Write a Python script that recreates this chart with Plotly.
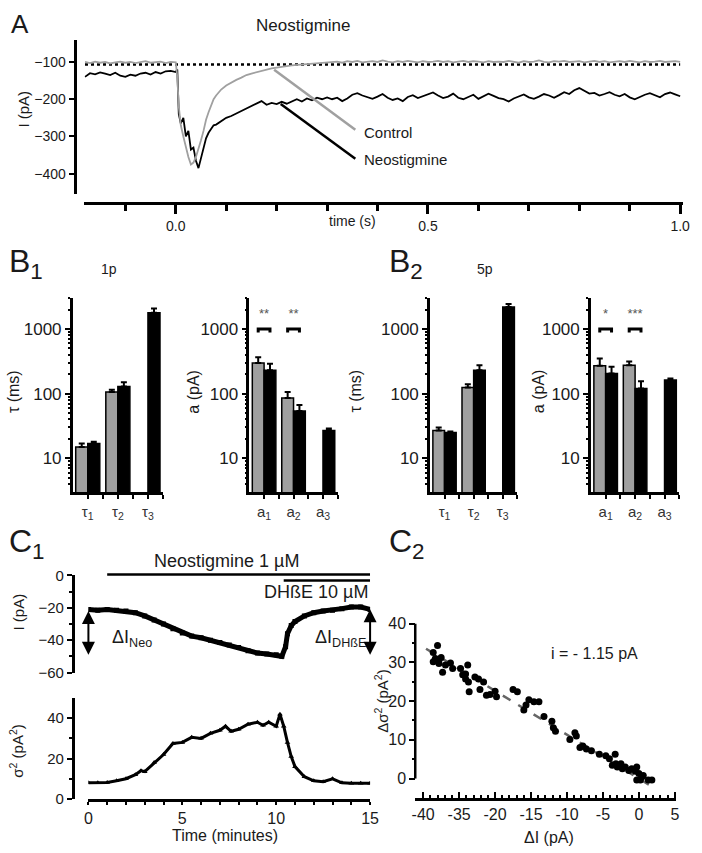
import plotly.graph_objects as go

W, H = 702, 853
FONT = "Liberation Sans, Arial, sans-serif"
INK = "#1a1a1a"
GREY = "#a0a0a0"


def px(x):
    return x / W


def py(y):
    return 1 - y / H


# ---------------- panel A data (time in s, current in pA)
t_a = [-0.18, -0.17, -0.16, -0.15, -0.14, -0.13, -0.12, -0.11, -0.10, -0.09,
       -0.08, -0.07, -0.06, -0.05, -0.04, -0.03, -0.02, -0.01, 0.0,
       0.003, 0.006, 0.01, 0.015, 0.02, 0.025, 0.03, 0.035, 0.04, 0.045,
       0.05, 0.055, 0.06, 0.065, 0.07, 0.075,
       0.08, 0.09, 0.10, 0.11, 0.12, 0.13, 0.14, 0.15, 0.16, 0.17, 0.18,
       0.19, 0.20, 0.21, 0.22, 0.23, 0.24, 0.25, 0.26, 0.27, 0.28, 0.29, 0.30,
       0.31, 0.32, 0.33, 0.34, 0.35, 0.36, 0.37, 0.38, 0.39, 0.40,
       0.41, 0.42, 0.43, 0.44, 0.45, 0.46, 0.47, 0.48, 0.49, 0.50,
       0.51, 0.52, 0.53, 0.54, 0.55, 0.56, 0.57, 0.58, 0.59, 0.60,
       0.61, 0.62, 0.63, 0.64, 0.65, 0.66, 0.67, 0.68, 0.69, 0.70,
       0.71, 0.72, 0.73, 0.74, 0.75, 0.76, 0.77, 0.78, 0.79, 0.80,
       0.81, 0.82, 0.83, 0.84, 0.85, 0.86, 0.87, 0.88, 0.89, 0.90,
       0.91, 0.92, 0.93, 0.94, 0.95, 0.96, 0.97, 0.98, 0.99, 1.00]
control_a = [-100, -103, -99, -102, -100, -104, -101, -99, -102, -100,
             -103, -100, -98, -102, -101, -99, -103, -100, -101,
             -140, -220, -270, -300, -330, -355, -375, -370, -355, -335,
             -310, -285, -255, -235, -215, -200,
             -190, -174, -163, -155, -148, -142, -135, -131, -127, -123, -120,
             -117, -115, -112, -111, -109, -108, -107, -106, -105, -104, -103, -103,
             -101, -99, -102, -98, -100, -97, -101, -99, -98, -100,
             -96, -99, -101, -98, -100, -97, -99, -101, -98, -100,
             -99, -97, -100, -98, -101, -99, -97, -100, -98, -99,
             -101, -98, -100, -99, -100, -97, -99, -102, -98, -100,
             -99, -96, -100, -101, -98, -99, -97, -100, -99, -98,
             -101, -99, -97, -100, -98, -101, -99, -98, -100, -97,
             -99, -101, -98, -100, -99, -97, -100, -99, -98, -100]
neo_a = [-140, -130, -133, -128, -131, -135, -129, -137, -140, -134,
         -137, -131, -129, -134, -127, -131, -125, -124, -127,
         -120, -240, -265, -250, -300, -285, -335, -330, -365, -385,
         -360, -330, -305, -290, -280, -270,
         -268, -260, -250, -245, -238, -232, -226, -218, -212, -205, -215,
         -210, -213, -207, -212, -205, -200, -206, -198, -203, -196, -200, -195,
         -200, -196, -205, -198, -188, -184, -190, -195, -199, -193,
         -186, -196, -202, -198, -205, -194, -189, -197, -192, -186,
         -182, -190, -197, -193, -185, -196, -200, -194, -188, -199,
         -192, -185, -191, -197, -200, -206, -198, -192, -187, -195,
         -199, -193, -186, -190, -196, -189, -181, -186, -176, -170,
         -178, -185, -183, -190, -186, -181, -188, -192, -186, -195,
         -200, -193, -188, -184, -190, -195, -186, -182, -187, -192]
baseline_t = [-0.18, 1.0]
baseline_i = [-107, -107]

# ---------------- panel B data (gray = control, black = neostigmine)
tau_1p_ctrl = [15, 106, None]
tau_1p_ctrl_err = [2, 9, 0]
tau_1p_neo = [17, 129, 1790]
tau_1p_neo_err = [1, 21, 290]
amp_1p_ctrl = [298, 86, None]
amp_1p_ctrl_err = [69, 20, 0]
amp_1p_neo = [231, 54, 27]
amp_1p_neo_err = [60, 13, 2]

tau_5p_ctrl = [27, 125, None]
tau_5p_ctrl_err = [3, 15, 0]
tau_5p_neo = [25, 231, 2180]
tau_5p_neo_err = [1, 44, 260]
amp_5p_ctrl = [270, 275, None]
amp_5p_ctrl_err = [80, 40, 0]
amp_5p_neo = [205, 120, 163]
amp_5p_neo_err = [55, 35, 9]

tau_labels = ["τ<sub>1</sub>", "τ<sub>2</sub>", "τ<sub>3</sub>"]
amp_labels = ["a<sub>1</sub>", "a<sub>2</sub>", "a<sub>3</sub>"]
stars_1p = ["**", "**"]
stars_5p = ["*", "***"]

# ---------------- panel C1 data (time in minutes)
t_i = [0, 0.5, 1.0, 1.5, 2.0, 2.5, 3.0, 3.5, 4.0, 4.5, 5.0, 5.5, 6.0, 6.5,
       7.0, 7.5, 8.0, 8.5, 9.0, 9.5, 10.0, 10.3, 10.5, 10.6, 10.8, 11.0,
       11.5, 12.0, 12.5, 13.0, 13.5, 14.0, 14.5, 15.0]
current_i = [-21, -21.5, -21, -21.5, -22, -23, -25, -27.5, -30, -33, -35.5,
             -37.5, -38.5, -40, -41.5, -43, -44.5, -46.5, -48, -48.5, -49,
             -50, -44, -36, -31, -28.5, -25, -23, -22, -21.5, -20.5, -19.5,
             -19.5, -21]
t_var = [0, 0.5, 1.0, 1.5, 2.0, 2.5, 2.8, 3.0, 3.5, 4.0, 4.5, 5.0, 5.5, 6.0,
         6.5, 7.0, 7.3, 7.6, 8.0, 8.5, 9.0, 9.3, 9.6, 10.0, 10.2, 10.4, 10.6,
         10.8, 11.0, 11.5, 12.0, 12.5, 13.0, 13.5, 14.0, 14.5, 15.0]
variance = [8, 8, 8.2, 9, 10, 12, 14, 13.5, 18, 22, 27.5, 28, 30.5, 30, 32.5,
            34, 36, 33.5, 34.5, 37, 38, 36.5, 38, 36, 42, 36, 28, 21, 16, 11,
            9, 8.5, 10, 8, 7.8, 7.8, 7.8]
delta_neo = [-21, -49]
delta_dhbe = [-20, -49]

# ---------------- panel C2 data
d_current = [-28.0, -28.6, -28.3, -27.8, -28.6, -27.8, -27.5, -27.3, -26.9,
             -26.2, -25.9, -24.8, -24.5, -24.1, -23.8, -23.7, -23.6, -24.1,
             -22.8, -22.3, -22.1, -21.6, -21.2, -20.7, -20.0, -19.8, -17.5,
             -16.9, -16.0, -15.7, -15.3, -14.6, -13.9, -13.2, -12.1, -11.9,
             -11.6, -9.6, -8.9, -8.7, -8.2, -7.8, -7.3, -6.6, -5.5, -4.6,
             -4.1, -3.3, -3.2, -2.5, -2.3, -1.9, -1.4, -1.0, -0.5, -0.3, 0.0,
             0.4, 0.6, 1.3, 1.8, -0.3, 0.2, -3.7, -3.0]
d_variance = [34.3, 32.5, 31.0, 30.6, 30.1, 29.7, 31.2, 27.4, 29.3, 29.8,
              28.4, 28.4, 26.8, 25.7, 29.3, 24.9, 22.4, 27.0, 26.2, 25.7,
              23.0, 24.9, 21.5, 21.7, 22.5, 21.1, 23.0, 22.4, 17.7, 19.0,
              20.3, 19.8, 19.8, 16.0, 14.8, 13.1, 12.2, 10.1, 11.8, 11.0,
              8.0, 8.4, 7.6, 7.2, 6.3, 5.9, 5.1, 6.3, 3.8, 3.8, 2.5, 3.0,
              2.1, 2.5, 1.9, 3.0, 1.3, 0.4, 0.8, -0.4, -0.4, -0.4, -0.4, 3.4,
              3.0]
fit_x = [-29.6, 2.2]
fit_y = [33.5, -2.5]
c2_tickvals = [-30, -25, -20, -15, -10, -5, 0, 5]
c2_ticktext = ["-40", "-35", "-20", "-15", "-10", "-5", "0", "5"]

fig = go.Figure()

# ---- A
fig.add_trace(go.Scatter(x=baseline_t, y=baseline_i, mode="lines",
                         line=dict(color="black", width=2.5, dash="dot"),
                         xaxis="x", yaxis="y"))
fig.add_trace(go.Scatter(x=t_a, y=neo_a, mode="lines",
                         line=dict(color="black", width=1.8), xaxis="x", yaxis="y"))
fig.add_trace(go.Scatter(x=t_a, y=control_a, mode="lines",
                         line=dict(color=GREY, width=1.8), xaxis="x", yaxis="y"))


# ---- B bars
def bar_pair(ctrl, ctrl_err, neo, neo_err, stars, ax):
    xs = [0, 1, 2]
    fig.add_trace(go.Bar(x=xs, y=ctrl, marker=dict(color=GREY, line=dict(color="black", width=1.5)),
                         error_y=dict(type="data", symmetric=False, array=ctrl_err, arrayminus=[0, 0, 0],
                                      color="black", thickness=2, width=3),
                         xaxis="x" + ax, yaxis="y" + ax, offsetgroup="c"))
    fig.add_trace(go.Bar(x=xs, y=neo, marker=dict(color="black", line=dict(color="black", width=1.5)),
                         error_y=dict(type="data", symmetric=False, array=neo_err, arrayminus=[0, 0, 0],
                                      color="black", thickness=2, width=3),
                         xaxis="x" + ax, yaxis="y" + ax, offsetgroup="n"))
    if stars:
        for g, s in enumerate(stars):
            fig.add_trace(go.Scatter(x=[g - 0.2, g - 0.2, g + 0.2, g + 0.2], y=[880, 1000, 1000, 880],
                                     mode="lines", line=dict(color="black", width=3),
                                     xaxis="x" + ax, yaxis="y" + ax))
            fig.add_trace(go.Scatter(x=[g], y=[1650], mode="text", text=[s],
                                     textfont=dict(size=13, color="#555", family=FONT),
                                     xaxis="x" + ax, yaxis="y" + ax))


bar_pair(tau_1p_ctrl, tau_1p_ctrl_err, tau_1p_neo, tau_1p_neo_err, None, "2")
bar_pair(amp_1p_ctrl, amp_1p_ctrl_err, amp_1p_neo, amp_1p_neo_err, stars_1p, "3")
bar_pair(tau_5p_ctrl, tau_5p_ctrl_err, tau_5p_neo, tau_5p_neo_err, None, "4")
bar_pair(amp_5p_ctrl, amp_5p_ctrl_err, amp_5p_neo, amp_5p_neo_err, stars_5p, "5")

# ---- C1
fig.add_trace(go.Scatter(x=t_i, y=current_i, mode="lines+markers",
                         line=dict(color="black", width=5), marker=dict(symbol="square", size=5, color="black"),
                         xaxis="x6", yaxis="y6"))
fig.add_trace(go.Scatter(x=t_var, y=variance, mode="lines+markers",
                         line=dict(color="black", width=3), marker=dict(symbol="triangle-up", size=5, color="black"),
                         xaxis="x7", yaxis="y7"))

# ---- C2
fig.add_trace(go.Scatter(x=fit_x, y=fit_y, mode="lines",
                         line=dict(color="#666", width=2.5, dash="dash"), xaxis="x8", yaxis="y8"))
fig.add_trace(go.Scatter(x=d_current, y=d_variance, mode="markers",
                         marker=dict(symbol="circle", size=7, color="black"), xaxis="x8", yaxis="y8"))

tickfont = dict(family=FONT, size=15, color=INK)
base_axis = dict(showgrid=False, zeroline=False, linecolor="black", tickcolor="black",
                 tickfont=tickfont, fixedrange=True)

lay = dict(
    width=W, height=H, margin=dict(l=0, r=0, t=0, b=0),
    paper_bgcolor="white", plot_bgcolor="white", showlegend=False,
    font=dict(family=FONT, color=INK), barmode="group", bargap=0.2, bargroupgap=0,
)

# A axes
lay["xaxis"] = dict(base_axis, domain=[px(82), px(692)], range=[-0.181, 1.006], anchor="free",
                    position=py(198), showline=True, linewidth=3, ticks="outside", ticklen=9,
                    tickwidth=2.5, tickvals=[0, 0.5, 1.0], ticktext=["0.0", "0.5", "1.0"],
                    tickfont=dict(family=FONT, size=14, color=INK),
                    minor=dict(ticks="outside", ticklen=6, tickwidth=2.5, tickcolor="black",
                               tickvals=[-0.1, 0.1, 0.2, 0.3, 0.4, 0.6, 0.7, 0.8, 0.9]))
lay["yaxis"] = dict(base_axis, domain=[py(189), py(32)], range=[-455, -42], anchor="free",
                    position=px(72), showline=True, linewidth=3, ticks="outside", ticklen=5,
                    tickwidth=2, tickvals=[-100, -200, -300, -400],
                    tickfont=dict(family=FONT, size=14, color=INK))

# B axes
minor_log = [4, 5, 6, 7, 8, 9, 20, 30, 40, 50, 60, 70, 80, 90,
             200, 300, 400, 500, 600, 700, 800, 900, 2000, 3000]
for ax, (x0, x1), labels in [("2", (70, 162), tau_labels), ("3", (250, 340), amp_labels),
                             ("4", (434, 523), tau_labels), ("5", (598, 688), amp_labels)]:
    lay["xaxis" + ax] = dict(base_axis, domain=[px(x0), px(x1)], range=[-0.5, 2.5], anchor="y" + ax,
                             showline=True, linewidth=2.5, ticks="outside", ticklen=4, tickwidth=2,
                             tickvals=[0, 1, 2], ticktext=labels,
                             tickfont=dict(family=FONT, size=15, color="#333"),
                             minor=dict(ticks="outside", ticklen=4, tickwidth=2, tickcolor="black",
                                        tickvals=[0.5, 1.5, 2.5]))
    lay["yaxis" + ax] = dict(base_axis, domain=[py(493), py(295)], type="log",
                             range=[0.4771, 3.4771], anchor="x" + ax, showline=True, linewidth=2.5,
                             ticks="outside", ticklen=5, tickwidth=2, tickvals=[10, 100, 1000],
                             ticktext=["10", "100", "1000"],
                             tickfont=dict(family=FONT, size=17, color=INK),
                             minor=dict(ticks="outside", ticklen=2, tickwidth=1.5, tickcolor="black",
                                        tickvals=minor_log))

# C1 axes
lay["xaxis6"] = dict(base_axis, domain=[px(86), px(373)], range=[0, 15], anchor="free",
                     position=py(700), visible=False)
lay["yaxis6"] = dict(base_axis, domain=[py(677), py(578)], range=[-60, 0], anchor="free",
                     position=px(70), showline=True, linewidth=2.5, ticks="outside", ticklen=5,
                     tickwidth=2, tickvals=[0, -20, -40, -60],
                     minor=dict(ticks="outside", ticklen=3, tickwidth=2, tickcolor="black",
                                tickvals=[-10, -30, -50]))
lay["xaxis7"] = dict(base_axis, domain=[px(86), px(373)], range=[0, 15], anchor="free",
                     position=py(807), showline=True, linewidth=2.5, ticks="outside", ticklen=3,
                     tickwidth=2, tickvals=[0, 5, 10, 15], tickfont=dict(family=FONT, size=16, color=INK),
                     minor=dict(ticks="outside", ticklen=3, tickwidth=2, tickcolor="black", dtick=1))
lay["yaxis7"] = dict(base_axis, domain=[py(806), py(703)], range=[0, 50], anchor="free",
                     position=px(70), showline=True, linewidth=2.5, ticks="outside", ticklen=5,
                     tickwidth=2, tickvals=[0, 20, 40],
                     minor=dict(ticks="outside", ticklen=3, tickwidth=2, tickcolor="black",
                                tickvals=[10, 30]))

# C2 axes
lay["xaxis8"] = dict(base_axis, domain=[px(419), px(685)], range=[-31.1, 5.2], anchor="free",
                     position=py(806), showline=True, linewidth=2.5, ticks="inside", ticklen=6,
                     tickwidth=2, tickvals=c2_tickvals, ticktext=c2_ticktext,
                     tickfont=dict(family=FONT, size=16, color=INK),
                     minor=dict(ticks="inside", ticklen=3, tickwidth=2, tickcolor="black", dtick=1))
lay["yaxis8"] = dict(base_axis, domain=[py(803), py(627)], range=[-4.5, 40], anchor="free",
                     position=px(419), showline=False, ticks="outside", ticklen=6, tickwidth=2,
                     tickvals=[0, 10, 20, 30, 40], tickfont=dict(family=FONT, size=16, color=INK),
                     minor=dict(ticks="outside", ticklen=3, tickwidth=2, tickcolor="black",
                                tickvals=[5, 15, 25, 35]))

fig.update_layout(**lay)

shapes = [
    # A pointer lines
    dict(type="line", xref="x", yref="y", x0=0.195, y0=-121, x1=0.356, y1=-282,
         line=dict(color=GREY, width=2.5)),
    dict(type="line", xref="x", yref="y", x0=0.208, y0=-213, x1=0.356, y1=-360,
         line=dict(color="black", width=2.5)),
    # C1 drug bars
    dict(type="line", xref="x6", yref="paper", x0=1.0, x1=15, y0=py(577), y1=py(577),
         line=dict(color="black", width=2.5)),
    dict(type="line", xref="x6", yref="paper", x0=10.4, x1=15, y0=py(583), y1=py(583),
         line=dict(color="black", width=2.5)),
    # C2 y axis line (ends at 0)
    dict(type="line", xref="paper", yref="y8", x0=px(419), x1=px(419), y0=0, y1=40,
         line=dict(color="black", width=2.5)),
]
fig.update_layout(shapes=shapes)


def label(text, x, y, size, xanchor="center", angle=0, color=INK):
    fig.add_annotation(text=text, x=px(x), y=py(y), xref="paper", yref="paper", showarrow=False,
                       xanchor=xanchor, yanchor="middle", textangle=angle,
                       font=dict(family=FONT, size=size, color=color))


label("A", 5, 15, 26, "left")
label("Neostigmine", 305, 17, 17)
label("I (pA)", 20, 102, 15, angle=-90)
label("time (s)", 355, 216, 14)
label("B<sub>1</sub>", 3, 260, 32, "left")
label("1p", 107, 265, 14)
label("B<sub>2</sub>", 390, 260, 32, "left")
label("5p", 490, 265, 14)
label("τ (ms)", 9, 390, 16, angle=-90)
label("a (pA)", 193, 390, 16, angle=-90)
label("τ (ms)", 358, 390, 16, angle=-90)
label("a (pA)", 544, 390, 16, angle=-90)
label("C<sub>1</sub>", 3, 545, 32, "left")
label("C<sub>2</sub>", 390, 545, 32, "left")
label("Neostigmine 1 µM", 227, 563, 18)
label("DHßE 10 µM", 373, 595, 18, "right")
label("ΔI<sub>Neo</sub>", 108, 642, 18, "left")
label("ΔI<sub>DHßE</sub>", 315, 642, 18, "left")
label("I (pA)", 15, 615, 15, angle=-90)
label("σ<sup>2</sup> (pA<sup>2</sup>)", 13, 757, 15, angle=-90)
label("Time (minutes)", 225, 843, 16)
label("Δσ<sup>2</sup> (pA<sup>2</sup>)", 385, 706, 15, angle=-90)
label("ΔI (pA)", 555, 845, 16)
label("i = - 1.15 pA", 555, 658, 16, "left")

# A trace labels in data units
fig.add_annotation(text="Control", x=0.37, y=-290, xref="x", yref="y", showarrow=False,
                   xanchor="left", font=dict(family=FONT, size=15, color=INK))
fig.add_annotation(text="Neostigmine", x=0.37, y=-362, xref="x", yref="y", showarrow=False,
                   xanchor="left", font=dict(family=FONT, size=15, color=INK))

# C1 double arrows
for xv, (top, bottom) in [(0, delta_neo), (15, delta_dhbe)]:
    fig.add_annotation(x=xv, y=bottom, ax=xv, ay=top, xref="x6", yref="y6", axref="x6", ayref="y6",
                       text="", showarrow=True, arrowhead=2, arrowside="end+start", arrowsize=1.3,
                       arrowwidth=2, arrowcolor="black")

# pin the figure to the top-left corner of the page (no body margin)
pin = ("document.body.style.margin='0';"
       "var d=document.getElementById('{plot_id}');"
       "d.style.position='fixed';d.style.left='0';d.style.top='0';")
fig.write_html("out.html", post_script=pin, config={"displayModeBar": False})
